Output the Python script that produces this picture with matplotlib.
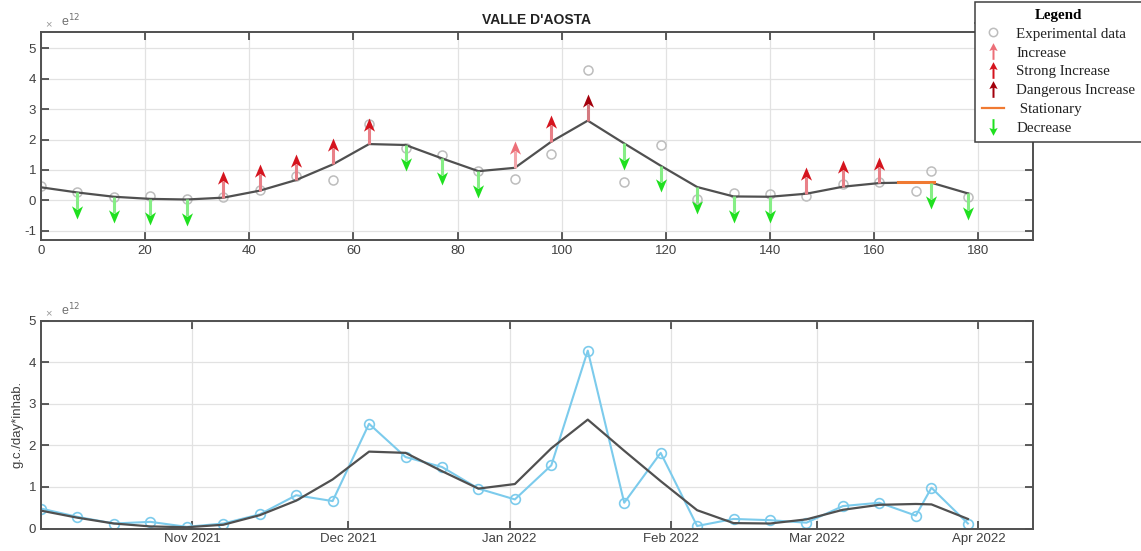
import numpy as np
import matplotlib
matplotlib.use("Agg")
import matplotlib.pyplot as plt
import matplotlib.dates as mdates
from matplotlib.path import Path
from matplotlib.lines import Line2D
from datetime import datetime, timedelta

# sampling days (from first sample) and concentrations, units of 1e12 g.c./day*inhab.
days = [0, 7, 14, 21, 28, 35, 42, 49, 56, 63, 70, 77, 84, 91, 98, 105,
        112, 119, 126, 133, 140, 147, 154, 161, 168, 171, 178]
experimental = [0.48, 0.28, 0.12, 0.16, 0.04, 0.12, 0.34, 0.80, 0.66, 2.52,
                1.72, 1.48, 0.96, 0.70, 1.52, 4.28, 0.62, 1.82, 0.06, 0.23,
                0.20, 0.14, 0.54, 0.62, 0.31, 0.98, 0.12]
trend = [0.43, 0.26, 0.12, 0.05, 0.03, 0.09, 0.32, 0.67, 1.18, 1.85,
         1.82, 1.38, 0.96, 1.07, 1.93, 2.62, 1.87, 1.14, 0.44, 0.13,
         0.12, 0.22, 0.45, 0.57, 0.59, 0.58, 0.23]
# trend class at each sample
status = ["", "dec", "dec", "dec", "dec",
          "strong", "strong", "strong", "strong", "strong",
          "dec", "dec", "dec",
          "inc", "strong", "danger",
          "dec", "dec", "dec", "dec", "dec",
          "strong", "strong", "strong",
          "stat", "dec", "dec"]
start_date = datetime(2021, 10, 3)

colors = {
    "inc": "#ec6f78",
    "strong": "#d5141e",
    "danger": "#a3000c",
    "dec": "#1fe01f",
}
shaft_colors = {
    "inc": "#f3a6ab",
    "strong": "#e98088",
    "danger": "#d47a80",
    "dec": "#86ee86",
}
stat_color = "#f07a32"
trend_color = "#505050"
exp_grey = "#bdbdbd"
exp_blue = "#7ccbec"
txt = "#404040"

arrow_len = 0.87
head_len = 0.33

# notched arrow head, tip at origin
head_up = Path([(0, 0), (-0.42, -1), (0, -0.72), (0.42, -1), (0, 0)],
               [Path.MOVETO, Path.LINETO, Path.LINETO, Path.LINETO, Path.CLOSEPOLY])
head_down = Path([(0, 0), (-0.42, 1), (0, 0.72), (0.42, 1), (0, 0)],
                 [Path.MOVETO, Path.LINETO, Path.LINETO, Path.LINETO, Path.CLOSEPOLY])
# whole arrow for the legend
full_up = Path([(0, 1), (-0.5, 0.05), (-0.12, 0.2), (-0.12, -1), (0.12, -1),
                (0.12, 0.2), (0.5, 0.05), (0, 1)],
               [Path.MOVETO] + [Path.LINETO] * 6 + [Path.CLOSEPOLY])
full_down = Path([(x, -y) for x, y in full_up.vertices], full_up.codes)

plt.rcParams["font.family"] = ["Liberation Sans", "DejaVu Sans"]
plt.rcParams["axes.unicode_minus"] = False

fig = plt.figure(figsize=(11.41, 5.51), dpi=100)
W, H = 1141, 551
ax1 = fig.add_axes([41 / W, 1 - 240 / H, 992 / W, 208 / H])
ax2 = fig.add_axes([41 / W, 1 - 528.5 / H, 992 / W, 207.8 / H])


def style(ax):
    ax.grid(True, color="#e2e2e2", lw=0.9)
    ax.set_axisbelow(True)
    for s in ax.spines.values():
        s.set_color(trend_color)
        s.set_linewidth(1.4)
    ax.tick_params(direction="in", top=True, right=True, length=6, width=1.2,
                   color=txt, labelcolor=txt, labelsize=9.5)
    ax.text(0.004, 1.012, "\u00d7", transform=ax.transAxes, fontsize=8,
            color="#9a9a9a", va="bottom")
    ax.text(0.02, 1.012, "e$^{12}$", transform=ax.transAxes, fontsize=9,
            color="#707070", va="bottom")


# top panel: trend with arrows
d = np.array(days, dtype=float)
tr = np.array(trend)
ax1.plot(d, experimental, "o", ls="none", ms=6.5, mfc="none", mec=exp_grey, mew=1.1, zorder=2)
ax1.plot(d, tr, color=trend_color, lw=1.6, zorder=3)
for x, y0, s in zip(d, tr, status):
    if s == "":
        continue
    if s == "stat":
        ax1.plot([x - 3.5, x + 3.5], [y0, y0], color=stat_color, lw=2.2, zorder=4)
        continue
    sign = 1 if s != "dec" else -1
    tip = y0 + sign * arrow_len
    ax1.plot([x, x], [y0, tip - sign * head_len], color=shaft_colors[s], lw=2.2,
             solid_capstyle="butt", zorder=4)
    ax1.plot([x], [tip], marker=head_up if sign > 0 else head_down, ms=19,
             color=colors[s], mec=colors[s], mew=0, ls="none", zorder=5)

ax1.set_xlim(0, 190.5)
ax1.set_ylim(-1.3, 5.53)
ax1.set_xticks(np.arange(0, 181, 20))
ax1.set_yticks(np.arange(-1, 6, 1))
style(ax1)
ax1.set_title("VALLE D'AOSTA", fontsize=10, fontweight="bold", color="#222222", pad=6)

# bottom panel: dated series
dates = [start_date + timedelta(days=int(v)) for v in days]
ax2.plot(dates, experimental, "-o", color=exp_blue, ms=7, mfc="none", mew=1.2, lw=1.5, zorder=2)
ax2.plot(dates, trend, color=trend_color, lw=1.6, zorder=3)
ax2.set_xlim(start_date, start_date + timedelta(days=190.5))
ax2.set_ylim(0, 5)
ax2.xaxis.set_major_locator(mdates.MonthLocator())
ax2.xaxis.set_major_formatter(mdates.DateFormatter("%b %Y"))
ax2.set_yticks(np.arange(0, 6, 1))
style(ax2)
ax2.set_ylabel("g.c./day*inhab.", fontsize=9.5, color=txt, labelpad=4)

# legend outside on the right
handles = [
    Line2D([], [], ls="none", marker="o", ms=6, mfc="none", mec=exp_grey, mew=1.1),
    Line2D([], [], ls="none", marker=full_up, ms=12, color=colors["inc"], mew=0),
    Line2D([], [], ls="none", marker=full_up, ms=12, color=colors["strong"], mew=0),
    Line2D([], [], ls="none", marker=full_up, ms=12, color=colors["danger"], mew=0),
    Line2D([], [], color=stat_color, lw=1.6),
    Line2D([], [], ls="none", marker=full_down, ms=12, color=colors["dec"], mew=0),
]
labels = ["Experimental data", "Increase", "Strong Increase", "Dangerous Increase",
          " Stationary", "Decrease"]
leg = fig.legend(handles, labels, loc="upper left", bbox_to_anchor=(975 / W, 1 - 2 / H),
                 prop={"family": "Liberation Serif", "size": 10.8},
                 title="Legend", title_fontproperties={"family": "Liberation Serif",
                                                       "size": 10.8, "weight": "bold"},
                 frameon=True, fancybox=False, edgecolor=txt, framealpha=1,
                 borderpad=0.45, labelspacing=0.36, handlelength=1.5,
                 handletextpad=0.8, borderaxespad=0)
leg.get_frame().set_linewidth(1.1)
for t in leg.get_texts():
    t.set_color("#222222")
fig.add_artist(Line2D([975 / W, 1], [1 - 23 / H, 1 - 23 / H], color=txt, lw=1.1,
                      transform=fig.transFigure))

fig.savefig("out.png", dpi=100)
